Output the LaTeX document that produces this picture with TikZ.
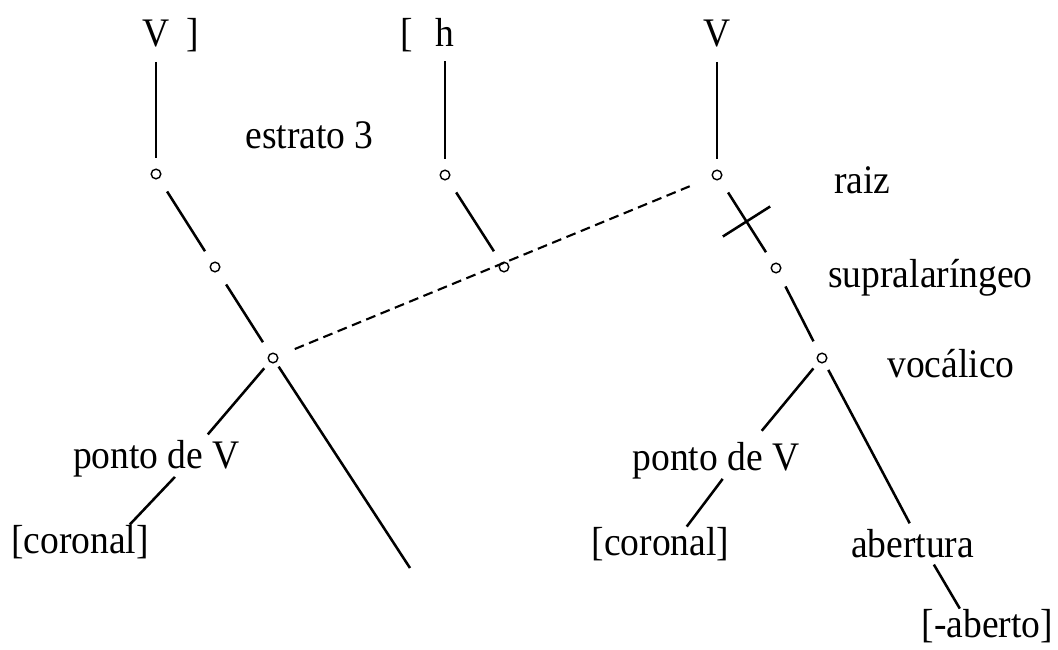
\documentclass[tikz,border=0pt]{standalone}
\usepackage{fontspec}
\setmainfont{Liberation Serif}
\usetikzlibrary{calc}
\newcommand\tallstr[1]{\scalebox{1}[1.08]{#1}}

\begin{document}
\begin{tikzpicture}[x=0.025cm,y=-0.025cm,
  lbl/.style={font=\fontsize{26.7}{32}\selectfont,inner sep=0pt,anchor=base},
  nd/.style={circle,draw,line width=1pt,inner sep=0pt,minimum size=0.24cm},
  br/.style={line width=1.8pt},
  tier/.style={line width=1.2pt,shorten <=0.35cm,shorten >=0.25cm}]
\useasboundingbox (0,0) rectangle (1058,650);
% ---- segments on the skeleton ----
\node[lbl] (vL) at (156,47) {\tallstr{V}};
\node[lbl] (brL) at (193,47) {\tallstr{]}};
\node[lbl] (brM) at (407,47) {\tallstr{[}};
\node[lbl] (hM) at (445,47) {\tallstr{h}};
\node[lbl] (vR) at (717,47) {\tallstr{V}};
% ---- class nodes ----
\foreach \n/\x/\y in {L1/156/174,L2/215/267,L3/273/358,M1/445/175,M2/504/267,
                      R1/717/175,R2/776/268,R3/822/358}
  \node[nd] (\n) at (\x,\y) {};
% ---- tier and node labels ----
\node[lbl] (estr) at (309.5,148) {\tallstr{estrato 3}};
\node[lbl] (raiz) at (862.5,193) {\tallstr{raiz}};
\node[lbl] (supra) at (930.5,287) {\tallstr{supralaríngeo}};
\node[lbl] (voc) at (951,377) {\tallstr{vocálico}};
\node[lbl] (pontoL) at (156.5,468) {\tallstr{ponto de V}};
\node[lbl] (corL) at (80,553) {\tallstr{[coronal]}};
\node[lbl] (pontoR) at (716,470) {\tallstr{ponto de V}};
\node[lbl] (corR) at (660.5,555) {\tallstr{[coronal]}};
\node[lbl] (abert) at (912.5,557) {\tallstr{abertura}};
\node[lbl] (aberto) at (987.5,637) {\tallstr{[-aberto]}};
\coordinate (lend) at (410,568);
% ---- association lines ----
\draw[tier] (vL) -- (L1);
\draw[tier] (hM) -- (M1);
\draw[tier] (vR) -- (R1);
\draw[br,shorten <=0.38cm,shorten >=0.33cm] (L1) -- (L2);
\draw[br,shorten <=0.38cm,shorten >=0.33cm] (L2) -- (L3);
\draw[br,shorten <=0.38cm,shorten >=0.33cm] (M1) -- (M2);
\draw[br,shorten <=0.38cm,shorten >=0.33cm] (R1) -- (R2);
\draw[br,shorten <=0.38cm,shorten >=0.33cm] (R2) -- (R3);
\draw[br,shorten <=0.12cm] (L3) -- (lend);
\draw[br,shorten <=0.2cm,shorten >=0.17cm]
  (L3) -- ($(pontoL.north west)!0.78!(pontoL.north east)$);
\draw[br] ($(pontoL.south west)!0.61!(pontoL.south east)$)
  -- ($(corL.north west)!0.86!(corL.north east)$);
\draw[br,shorten <=0.2cm,shorten >=0.35cm]
  (R3) -- ($(pontoR.north west)!0.72!(pontoR.north east)$);
\draw[br] ($(pontoR.south west)!0.54!(pontoR.south east)$)
  -- ($(corR.north west)!0.69!(corR.north east)$);
\draw[br,shorten <=0.2cm,shorten >=0.15cm] (R3) -- (abert.north);
\draw[br,shorten <=0.2cm] ($(abert.south west)!0.64!(abert.south east)$)
  -- ($(aberto.north west)!0.29!(aberto.north east)$);
% spreading of the vowel place and delinking of the root
\draw[br,line width=1.5pt,dash pattern=on 7pt off 4pt,shorten <=0.45cm,shorten >=0.6cm] (L3) -- (R1);
\coordinate (cut) at ($(R1)!0.5!(R2)$);
\draw[br] ($(cut)!0.7cm!90:(R2)$) -- ($(cut)!0.7cm!-90:(R2)$);
\end{tikzpicture}
\end{document}
